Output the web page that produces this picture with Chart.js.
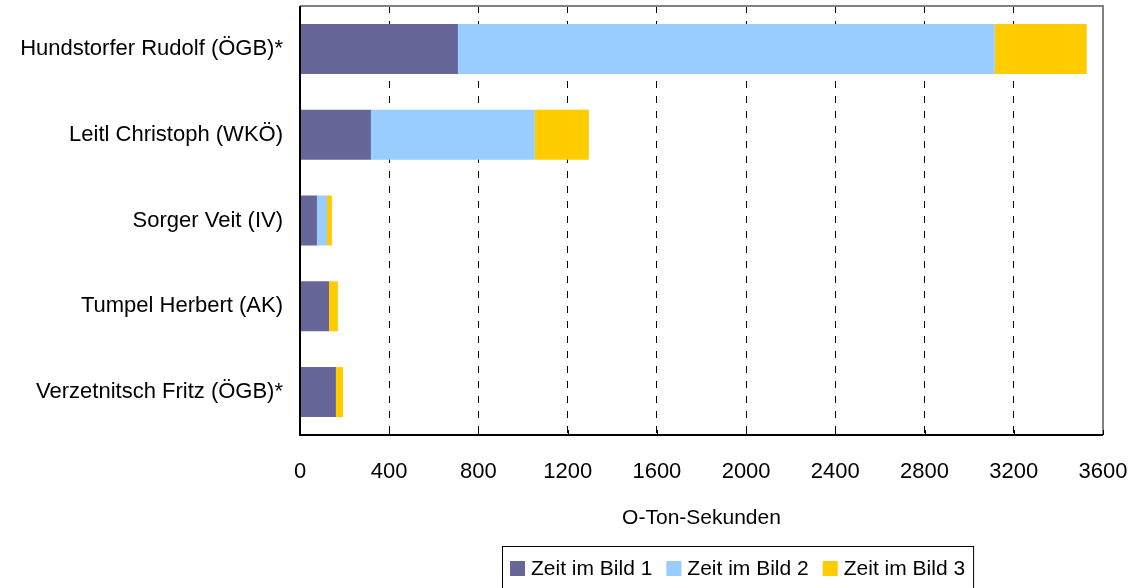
<!DOCTYPE html>
<html><head><meta charset="utf-8">
<script src="https://cdn.jsdelivr.net/npm/chart.js@4/dist/chart.umd.min.js"></script>
<style>html,body{margin:0;padding:0;background:#fff}#wrap{width:1132px;height:588px;position:relative}</style>
</head><body><div id="wrap"><canvas id="c" width="1132" height="588"></canvas></div>
<script>
const categories = ["Hundstorfer Rudolf (ÖGB)*", "Leitl Christoph (WKÖ)", "Sorger Veit (IV)", "Tumpel Herbert (AK)", "Verzetnitsch Fritz (ÖGB)*"];
const seriesNames = ["Zeit im Bild 1", "Zeit im Bild 2", "Zeit im Bild 3"];
const zib1 = [708, 318, 76, 130, 161];
const zib2 = [2407, 735, 45, 0, 0];
const zib3 = [412, 242, 22, 40, 32];
const xTicks = [0, 400, 800, 1200, 1600, 2000, 2400, 2800, 3200, 3600];
const xTickLabels = ["0", "400", "800", "1200", "1600", "2000", "2400", "2800", "3200", "3600"];
const axisTitle = "O-Ton-Sekunden";
const colors = ["#666699", "#99CCFF", "#FFCC00"];

const FONT = "'Liberation Sans', Arial, sans-serif";

const framePlugin = {
  id: 'frame',
  afterDatasetsDraw(chart) {
    const {ctx, chartArea: {left, top, right, bottom}} = chart;
    const xs = chart.scales.x;
    ctx.save();
    ctx.strokeStyle = '#808080';
    ctx.lineWidth = 2;
    ctx.beginPath();
    ctx.moveTo(left, top); ctx.lineTo(right, top); ctx.lineTo(right, bottom);
    ctx.stroke();
    ctx.strokeStyle = '#000';
    ctx.lineWidth = 2;
    ctx.beginPath();
    ctx.moveTo(left, top); ctx.lineTo(left, bottom); ctx.lineTo(right, bottom);
    ctx.stroke();
    ctx.lineWidth = 1;
    ctx.beginPath();
    xTicks.forEach(v => {
      const x = Math.round(xs.getPixelForValue(v)) + 0.5;
      ctx.moveTo(x, bottom - 5); ctx.lineTo(x, bottom);
    });
    ctx.stroke();
    ctx.restore();
  },
  afterDraw(chart) {
    const ctx = chart.ctx;
    ctx.save();
    ctx.font = "21px " + FONT;
    ctx.textBaseline = 'alphabetic';
    const boxLeft = 502, boxTop = 546;
    let x = 510;
    chart.data.datasets.forEach((ds, i) => {
      ctx.fillStyle = ds.backgroundColor;
      ctx.fillRect(x, 561, 15, 15);
      ctx.fillStyle = '#000';
      ctx.fillText(ds.label, x + 21, 575);
      x += 21 + ctx.measureText(ds.label).width + (i < chart.data.datasets.length - 1 ? 14 : 8);
    });
    ctx.strokeStyle = '#000';
    ctx.lineWidth = 1;
    ctx.strokeRect(boxLeft + 0.5, boxTop + 0.5, x - boxLeft, 60);
    ctx.restore();
  }
};

new Chart(document.getElementById('c'), {
  type: 'bar',
  data: {
    labels: categories,
    datasets: [
      {label: seriesNames[0], data: zib1, backgroundColor: colors[0]},
      {label: seriesNames[1], data: zib2, backgroundColor: colors[1]},
      {label: seriesNames[2], data: zib3, backgroundColor: colors[2]}
    ]
  },
  options: {
    indexAxis: 'y',
    responsive: false,
    animation: false,
    layout: {padding: {left: 0, right: 29, top: 6, bottom: 53}},
    datasets: {bar: {categoryPercentage: 1, barPercentage: 0.583, borderWidth: 0}},
    plugins: {legend: {display: false}, tooltip: {enabled: false}},
    scales: {
      x: {
        stacked: true,
        min: 0, max: 3600,
        afterBuildTicks(scale) { scale.ticks = xTicks.map(v => ({value: v})); },
        afterFit(scale) { scale.height = 100; scale.paddingLeft = 0; scale.paddingRight = 0; },
        ticks: {
          color: '#000', font: {family: FONT, size: 22}, autoSkip: false, maxRotation: 0, padding: 24,
          callback: (v, i) => xTickLabels[i]
        },
        grid: {
          drawTicks: false,
          color: (c) => (c.index === 0 || c.index === xTicks.length - 1) ? 'rgba(0,0,0,0)' : '#000',
          lineWidth: 1
        },
        border: {display: false, dash: [7, 8]},
        title: {display: true, text: axisTitle, color: '#000', font: {family: FONT, size: 21}, padding: {top: 12}}
      },
      y: {
        stacked: true,
        afterFit(scale) { scale.width = 300; scale.paddingTop = 0; scale.paddingBottom = 0; },
        ticks: {color: '#000', font: {family: FONT, size: 22}, padding: 17},
        grid: {display: false, drawTicks: false},
        border: {display: false}
      }
    }
  },
  plugins: [framePlugin]
});
</script>
</body></html>
